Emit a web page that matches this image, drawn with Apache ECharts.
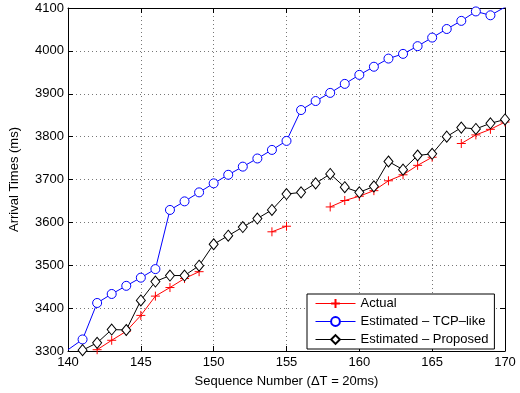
<!DOCTYPE html>
<html>
<head>
<meta charset="utf-8">
<script src="https://cdn.jsdelivr.net/npm/echarts@6/dist/echarts.min.js"></script>
<style>html,body{margin:0;padding:0;background:#fff}#c{width:520px;height:393px}</style>
</head>
<body>
<div id="c"></div>
<script>
const seq = [140,141,142,143,144,145,146,147,148,149,150,151,152,153,154,155,156,157,158,159,160,161,162,163,164,165,166,167,168,169,170];
const actual = [null,null,3303,3325,3346,3383,3428,3448,3469,3485,null,null,null,null,3578,3591,null,null,3636,3651,3661,3674,3697,3711,3733,3752,null,3784,3804,3817,3834];
const tcpLike = [3303,3327,3412,3433,3452,3471,3491,3629,3649,3670,3691,3711,3730,3749,3769,3790,3862,3883,3902,3923,3944,3963,3982,3993,4011,4031,4051,4070,4092,4083,4102];
const proposed = [null,3302,3319,3350,3349,3418,3462,3476,3476,3499,3549,3569,3589,3609,3629,3666,3670,3691,3713,3682,3670,3684,3742,3723,3756,3760,3800,3821,3818,3831,3840];
const xTicks = [140,145,150,155,160,165,170];
const yTicks = [3300,3400,3500,3600,3700,3800,3900,4000,4100];
const names = ['Actual','Estimated – TCP–like','Estimated – Proposed'];
const colors = ['#ff0000','#0000ff','#000000'];
const fills = ['#ff0000','#ffffff','#ffffff'];

function toData(arr, hideEnds){
  return seq.map((x,i)=>{
    const v = arr[i];
    if (v === null) return [x,'-'];
    if (hideEnds && (i===0 || i===seq.length-1)) return {value:[x,v], symbol:'none'};
    return [x,v];
  });
}
const font = 'Liberation Sans, Arial, Helvetica, sans-serif';
const chart = echarts.init(document.getElementById('c'), null, {renderer:'canvas'});
const axisCommon = {
  axisLine:{show:true, onZero:false, lineStyle:{color:'#000', width:1}},
  axisTick:{show:true, inside:true, length:5, lineStyle:{color:'#000'}},
};
const plusPath = 'path://M0,5L10,5M5,0L5,10';
const circlePath = 'path://M10,5A5,5,0,1,1,0,5A5,5,0,1,1,10,5Z';
const diamondPath = 'path://M5,0L10,6L5,12L0,6Z';
chart.setOption({
  animation:false,
  backgroundColor:'#fff',
  textStyle:{fontFamily:font},
  grid:{left:66, right:15, top:8, bottom:39, containLabel:false},
  legend:{
    orient:'vertical', left:307, top:294,
    itemWidth:40, itemHeight:11, itemGap:5,
    padding:[3,6,3,8],
    borderColor:'#000', borderWidth:1, backgroundColor:'#fff',
    lineStyle:{width:1},
    textStyle:{fontSize:13, color:'#000', fontFamily:font},
    data:names
  },
  xAxis:[
    Object.assign({type:'value', min:xTicks[0], max:xTicks[xTicks.length-1], interval:5, position:'bottom',
      name:'Sequence Number (ΔT = 20ms)', nameLocation:'middle', nameGap:24,
      nameTextStyle:{fontSize:13, color:'#000', fontFamily:font},
      axisLabel:{fontSize:13, color:'#000', margin:5, fontFamily:font},
      splitLine:{show:true, lineStyle:{color:'#777', type:[1,3], width:1}}}, axisCommon),
    Object.assign({type:'value', min:xTicks[0], max:xTicks[xTicks.length-1], interval:5, position:'top',
      axisLabel:{show:false}, splitLine:{show:false}}, axisCommon)
  ],
  yAxis:[
    Object.assign({type:'value', min:yTicks[0], max:yTicks[yTicks.length-1], interval:100, position:'left',
      name:'Arrival Times (ms)', nameLocation:'middle', nameGap:47, nameRotate:90,
      nameTextStyle:{fontSize:13, color:'#000', fontFamily:font},
      axisLabel:{fontSize:13, color:'#000', margin:4, fontFamily:font, formatter:(v)=>String(v)},
      splitLine:{show:true, lineStyle:{color:'#777', type:[1,3], width:1}}}, axisCommon),
    Object.assign({type:'value', min:yTicks[0], max:yTicks[yTicks.length-1], interval:100, position:'right',
      axisLabel:{show:false}, splitLine:{show:false}}, axisCommon)
  ],
  series:[
    {name:names[0], type:'line', data:toData(actual,false),
      symbol:plusPath, symbolSize:9, symbolKeepAspect:true,
      itemStyle:{color:fills[0], borderColor:colors[0], borderWidth:1},
      lineStyle:{color:colors[0], width:1}, connectNulls:false, z:3},
    {name:names[1], type:'line', data:toData(tcpLike,true),
      symbol:circlePath, symbolSize:9, symbolKeepAspect:true,
      itemStyle:{color:fills[1], borderColor:colors[1], borderWidth:1},
      lineStyle:{color:colors[1], width:1}, z:2},
    {name:names[2], type:'line', data:toData(proposed,false),
      symbol:diamondPath, symbolSize:[9,11],
      itemStyle:{color:fills[2], borderColor:colors[2], borderWidth:1},
      lineStyle:{color:colors[2], width:1}, z:4}
  ]
});
</script>
</body>
</html>
